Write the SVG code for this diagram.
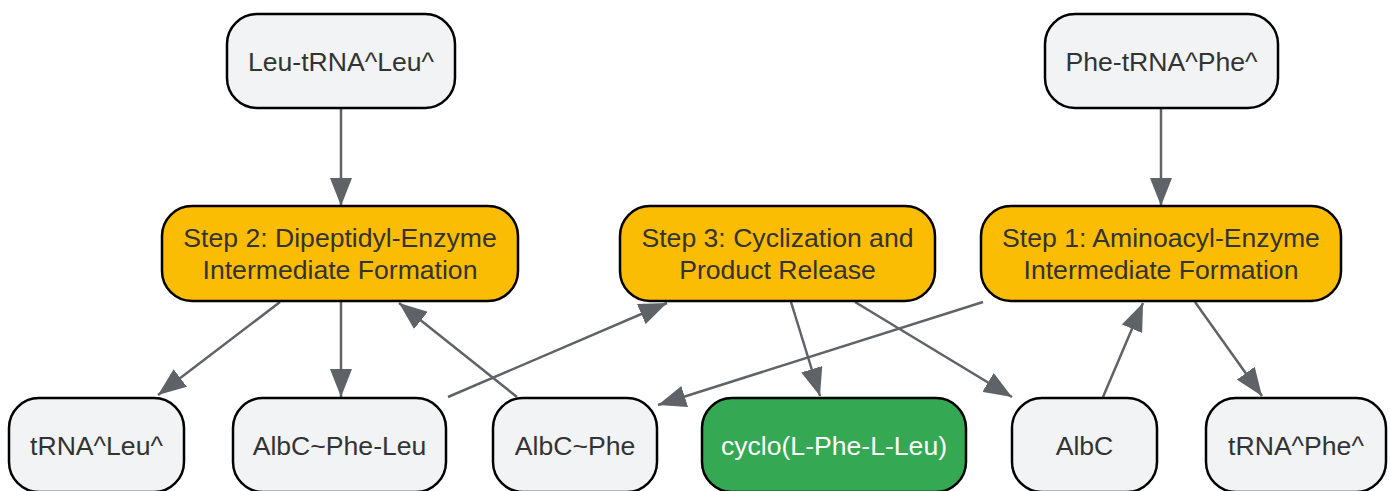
<svg xmlns="http://www.w3.org/2000/svg" width="1390" height="491" viewBox="0 0 1390 491">
<style>
.n rect{stroke:#000;stroke-width:2.5}
.g rect{fill:#f1f3f4}
.s rect{fill:#fbbc04}
.p rect{fill:#34a853}
text{font-family:"Liberation Sans",Arial,sans-serif;font-size:26.6px;fill:#333;text-anchor:middle}
.p text{fill:#fff}
.e line{stroke:#5f6368;stroke-width:2.5;fill:none}
</style>
<defs>
<marker id="ah" markerUnits="userSpaceOnUse" markerWidth="28" markerHeight="22" refX="28" refY="11" orient="auto">
<path d="M0,0 L28,11 L0,22 z" fill="#5f6368"/>
</marker>
</defs>
<rect width="1390" height="491" fill="#fff"/>
<g class="e" id="connectors">
<line x1="341" y1="108" x2="341" y2="206" marker-end="url(#ah)"/>
<line x1="1161" y1="108" x2="1161" y2="206" marker-end="url(#ah)"/>
<line x1="280" y1="302" x2="158" y2="395" marker-end="url(#ah)"/>
<line x1="341" y1="301" x2="341" y2="397" marker-end="url(#ah)"/>
<line x1="517" y1="397" x2="399" y2="303" marker-end="url(#ah)"/>
<line x1="448" y1="397" x2="667" y2="303" marker-end="url(#ah)"/>
<line x1="791" y1="302" x2="820" y2="396" marker-end="url(#ah)"/>
<line x1="855" y1="302" x2="1012" y2="397" marker-end="url(#ah)"/>
<line x1="983" y1="302" x2="658" y2="405" marker-end="url(#ah)"/>
<line x1="1103" y1="397" x2="1143" y2="303" marker-end="url(#ah)"/>
<line x1="1195" y1="302" x2="1262" y2="396" marker-end="url(#ah)"/>
</g>
<g class="n g" id="leuTRNA"><rect x="227" y="14" width="228" height="94" rx="30"/><text x="341" y="71">Leu-tRNA^Leu^</text></g>
<g class="n g" id="pheTRNA"><rect x="1045" y="14" width="233" height="94" rx="30"/><text x="1161.5" y="71">Phe-tRNA^Phe^</text></g>
<g class="n s" id="step2"><rect x="162" y="206" width="356" height="95" rx="30"/><text x="340" y="247">Step 2: Dipeptidyl-Enzyme</text><text x="340" y="279">Intermediate Formation</text></g>
<g class="n s" id="step3"><rect x="620" y="206" width="315" height="95" rx="30"/><text x="777.5" y="247">Step 3: Cyclization and</text><text x="777.5" y="279">Product Release</text></g>
<g class="n s" id="step1"><rect x="981" y="206" width="360" height="95" rx="30"/><text x="1161" y="247">Step 1: Aminoacyl-Enzyme</text><text x="1161" y="279">Intermediate Formation</text></g>
<g class="n g" id="tRNALeu"><rect x="9" y="398" width="175" height="94" rx="30"/><text x="96.5" y="455">tRNA^Leu^</text></g>
<g class="n g" id="albcPheLeu"><rect x="233" y="398" width="213" height="94" rx="30"/><text x="339.5" y="455">AlbC~Phe-Leu</text></g>
<g class="n g" id="albcPhe"><rect x="493" y="398" width="164" height="94" rx="30"/><text x="575" y="455">AlbC~Phe</text></g>
<g class="n p" id="cyclo"><rect x="702" y="398" width="264" height="94" rx="30"/><text x="834" y="455">cyclo(L-Phe-L-Leu)</text></g>
<g class="n g" id="albc"><rect x="1012" y="398" width="145" height="94" rx="30"/><text x="1084.5" y="455">AlbC</text></g>
<g class="n g" id="tRNAPhe"><rect x="1206" y="398" width="180" height="94" rx="30"/><text x="1296" y="455">tRNA^Phe^</text></g>
</svg>
